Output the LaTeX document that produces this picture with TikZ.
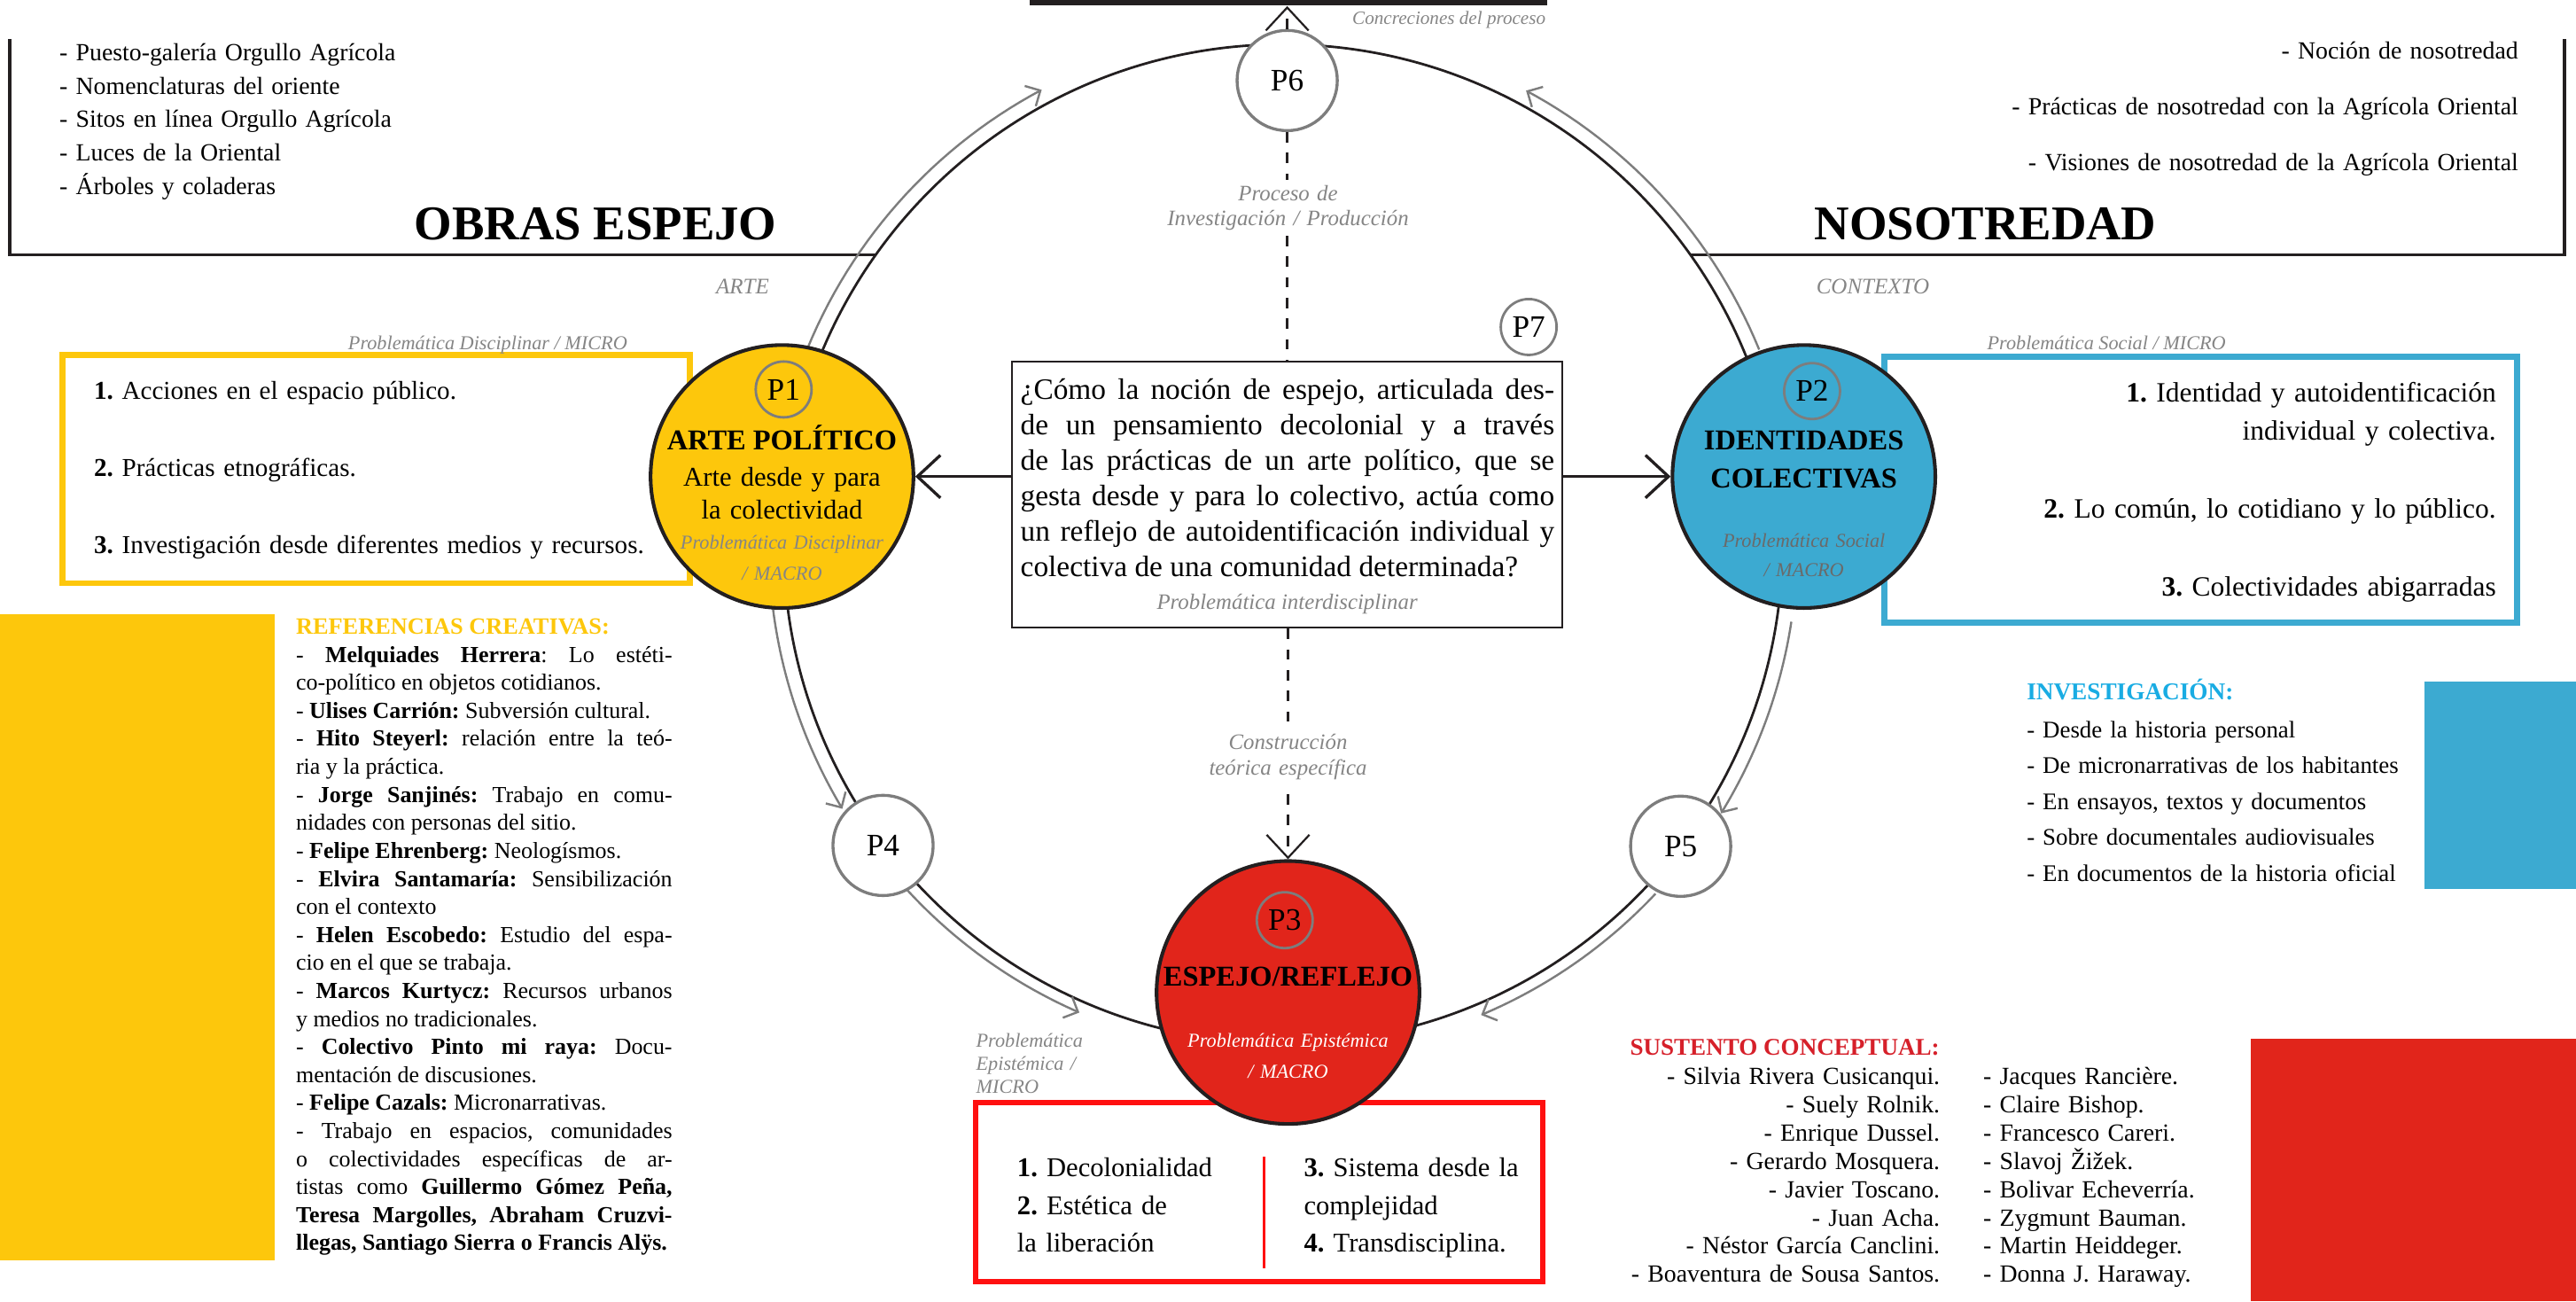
\documentclass[tikz,border=0pt]{standalone}
\usepackage{fontspec}
\setmainfont{Liberation Serif}
\usetikzlibrary{arrows.meta}
\definecolor{artyellow}{HTML}{FDC70C}
\definecolor{socblue}{HTML}{3CAAD1}
\definecolor{epired}{HTML}{E1251B}
\definecolor{boxred}{HTML}{FF1010}
\definecolor{invcyan}{HTML}{19ACE3}
\definecolor{sustred}{HTML}{D6202A}
\definecolor{notegray}{HTML}{858585}
\definecolor{ringgray}{HTML}{7D7D7D}
\definecolor{inkblack}{HTML}{231F20}
\tolerance=10000
\hbadness=10000
\frenchspacing

\begin{document}
\begin{tikzpicture}[x=1pt, y=-1pt,
  bigp/.style={circle, draw=inkblack, line width=2.2pt, minimum size=160pt, inner sep=0pt},
  smallp/.style={circle, draw=ringgray, line width=1.8pt, fill=white, minimum size=61pt, inner sep=0pt, font=\fontsize{19}{19}\selectfont},
  tagp/.style={circle, draw=ringgray, line width=1.5pt, minimum size=34pt, inner sep=0pt, font=\fontsize{19}{19}\selectfont},
  txt/.style={inner sep=0pt, anchor=base west, align=left},
  rtxt/.style={inner sep=0pt, anchor=base east, align=right},
  ctxt/.style={inner sep=0pt, anchor=base, align=center},
  note/.style={text=notegray, font=\itshape\fontsize{12}{13.8}\selectfont},
  bigtitle/.style={ctxt, font=\bfseries\fontsize{29.5}{30}\selectfont},
  ptitle/.style={ctxt, font=\bfseries\fontsize{17.5}{23}\selectfont},
  psub/.style={ctxt, text width=140pt, font=\fontsize{16.5}{20}\selectfont},
  listbox/.style={line width=3.5pt},
  flow/.style={draw=ringgray, line width=1.3pt, -{Straight Barb[length=7pt,width=14pt]}},
  mainarrow/.style={draw=inkblack, line width=1.8pt, -{Straight Barb[length=14pt,width=26pt]}},
  dashline/.style={draw=inkblack, line width=1.2pt, dash pattern=on 6.3pt off 6.3pt},
  dasharrow/.style={dashline, -{Straight Barb[length=14pt,width=26pt]}},
  steplabel/.style={ctxt, fill=white, inner ysep=3pt, text width=160pt, text=notegray, font=\itshape\fontsize{13.4}{15.5}\selectfont}
]
  \useasboundingbox (0,0) rectangle (1568,792);
  \fill[artyellow] (0,374) rectangle (167,767);
  \fill[socblue] (1476,415) rectangle (1568,541);
  \fill[epired] (1370,632) rectangle (1568,792);

  \node[fill=inkblack, minimum width=315pt, minimum height=3.5pt, inner sep=0pt] (topbar) at (784.5,1.75) {};
  \draw[inkblack, line width=2pt] (6,24) |- (533,155);
  \draw[inkblack, line width=2pt] (1029,155) -| (1561,24);

  \draw[inkblack, line width=1.5pt] (781,331) circle[radius=304];
  \begin{scope}[shift={(781,331)}]
    \draw[flow] plot[domain=202.4:242, samples=30] (\x:313);
    \draw[flow] plot[domain=337.8:298.2, samples=30] (\x:313);
    \draw[flow] plot[domain=172.8:149, samples=30] (\x:313);
    \draw[flow] plot[domain=8.7:31.6, samples=30] (\x:313);
    \draw[flow] plot[domain=137.5:113.5, samples=30] (\x:311);
    \draw[flow] plot[domain=43.2:67.2, samples=30] (\x:311);
  \end{scope}

  \draw[listbox, artyellow] (38,216) rectangle (420,355);
  \draw[listbox, socblue] (1147,217) rectangle (1532,379);
  \draw[line width=3pt, boxred] (594,671) rectangle (939,780);
  \draw[line width=1.5pt, boxred] (769.5,704) -- (769.5,772);

  \node[bigp, fill=artyellow] (p1) at (476,290) {};
  \node[bigp, fill=socblue] (p2) at (1098,290) {};
  \node[bigp, fill=epired] (p3) at (784,604) {};
  \node[smallp] (p4) at (537.5,514.5) {P4};
  \node[smallp] (p5) at (1023,515) {P5};
  \node[smallp] (p6) at (783.5,49) {P6};
  \node[draw=inkblack, line width=1.1pt, fill=white, minimum width=335pt, minimum height=162pt, inner sep=0pt] (question) at (783.5,301) {};
  \node[tagp, fill=white] (p7) at (930.5,199) {P7};

  \draw[mainarrow] (question.west |- p1.east) -- (p1.east);
  \draw[mainarrow] (question.east |- p2.west) -- (p2.west);
  \draw[dashline] (p6.south) -- (question.north);
  \draw[dasharrow] (p3.north |- question.south) -- (p3.north);
  \draw[dasharrow] (p6.north) -- (p6.north |- topbar.south);

  \node[steplabel] (proclabel) at (784,122) {Proceso de\\Investigación / Producción};
  \node[steplabel] (teolabel) at (784,456) {Construcción\\teórica específica};

  \node[txt, text width=330pt, font=\fontsize{15}{20.3}\selectfont] (obrasitems) at (36,37) {- Puesto-galería Orgullo Agrícola\\- Nomenclaturas del oriente\\- Sitos en línea Orgullo Agrícola\\- Luces de la Oriental\\- Árboles y coladeras};
  \node[rtxt, text width=340pt, font=\fontsize{15}{34}\selectfont] (nositems) at (1533,36) {- Noción de nosotredad\\- Prácticas de nosotredad con la Agrícola Oriental\\- Visiones de nosotredad de la Agrícola Oriental};
  \node[bigtitle] (obras) at (362.5,146) {OBRAS ESPEJO};
  \node[bigtitle] (nosotredad) at (1208.5,146) {NOSOTREDAD};
  \node[ctxt, note, font=\itshape\fontsize{13.5}{15}\selectfont] (arte) at (452,179) {ARTE};
  \node[ctxt, note, font=\itshape\fontsize{13.5}{15}\selectfont] (contexto) at (1140,179) {CONTEXTO};
  \node[txt, note, font=\itshape\fontsize{11.4}{13}\selectfont] (concreciones) at (823,15) {Concreciones del proceso};
  \node[rtxt, note] (dismicro) at (382,213) {Problemática Disciplinar / MICRO};
  \node[rtxt, note] (socmicro) at (1355,213) {Problemática Social / MICRO};

  \node[txt, text width=350pt, font=\fontsize{15.7}{47}\selectfont] (artitems) at (57,243) {\textbf{1.} Acciones en el espacio público.\\\textbf{2.} Prácticas etnográficas.\\\textbf{3.} Investigación desde diferentes medios y recursos.};
  \node[rtxt, text width=300pt, font=\fontsize{17}{23.5}\selectfont] (socitems) at (1519.5,244.5) {\textbf{1.} Identidad y autoidentificación\\individual y colectiva.\\[24pt]\textbf{2.} Lo común, lo cotidiano y lo público.\\[24pt]\textbf{3.} Colectividades abigarradas};

  \node[tagp] (p1tag) at (477,237) {P1};
  \node[ptitle] (p1title) at (476,274) {ARTE POLÍTICO};
  \node[psub] (p1sub) at (476,296) {Arte desde y para\\la colectividad};
  \node[ctxt, note, text width=140pt, font=\itshape\fontsize{12}{19}\selectfont] (p1note) at (476,334) {Problemática Disciplinar\\/ MACRO};

  \node[tagp] (p2tag) at (1103,238) {P2};
  \node[ptitle, text width=150pt] (p2title) at (1098,274) {IDENTIDADES\\COLECTIVAS};
  \node[ctxt, text width=140pt, text=notegray!80!black, font=\itshape\fontsize{12}{18}\selectfont] (p2note) at (1098,333) {Problemática Social\\/ MACRO};

  \node[tagp] (p3tag) at (782,560) {P3};
  \node[ptitle] (p3title) at (784,600) {ESPEJO/REFLEJO};
  \node[ctxt, text width=140pt, text=white, font=\itshape\fontsize{12}{18.5}\selectfont] (p3note) at (784,637.5) {Problemática Epistémica\\/ MACRO};
  \node[txt, note, text width=80pt] (epimicro) at (594,637.5) {Problemática\\Epistémica /\\MICRO};

  \node[txt, text width=140pt, font=\fontsize{16.5}{23}\selectfont] (epileft) at (619,716) {\textbf{1.} Decolonialidad\\\textbf{2.} Estética de\\la liberación};
  \node[txt, text width=140pt, font=\fontsize{16.5}{23}\selectfont] (epiright) at (793.5,716) {\textbf{3.} Sistema desde la\\complejidad\\\textbf{4.} Transdisciplina.};

  \node[txt, text width=325pt, align=justify, font=\fontsize{18}{21.6}\selectfont] (qtext) at (621,243) {¿Cómo la noción de espejo, articulada des-\linebreak
    de un pensamiento decolonial y a través\linebreak
    de las prácticas de un arte político, que se\linebreak
    gesta desde y para lo colectivo, actúa como\linebreak
    un reflejo de autoidentificación individual y\linebreak
    colectiva de una comunidad determinada?};
  \node[ctxt, note, font=\itshape\fontsize{13.4}{15}\selectfont] (interdis) at (783.5,371) {Problemática interdisciplinar};

  \node[txt, text=artyellow, font=\bfseries\fontsize{14.2}{16}\selectfont] (refhead) at (180,386) {REFERENCIAS CREATIVAS:};
  \node[txt, text width=229pt, align=justify, font=\fontsize{14}{17.05}\selectfont] (refbody) at (180,403) {- \textbf{Melquiades Herrera}: Lo estéti-\linebreak
    co-político en objetos cotidianos.\\
    - \textbf{Ulises Carrión:} Subversión cultural.\\
    - \textbf{Hito Steyerl:} relación entre la teó-\linebreak
    ria y la práctica.\\
    - \textbf{Jorge Sanjinés:} Trabajo en comu-\linebreak
    nidades con personas del sitio.\\
    - \textbf{Felipe Ehrenberg:} Neologísmos.\\
    - \textbf{Elvira Santamaría:} Sensibilización\linebreak
    con el contexto\\
    - \textbf{Helen Escobedo:} Estudio del espa-\linebreak
    cio en el que se trabaja.\\
    - \textbf{Marcos Kurtycz:} Recursos urbanos\linebreak
    y medios no tradicionales.\\
    - \textbf{Colectivo Pinto mi raya:} Docu-\linebreak
    mentación de discusiones.\\
    - \textbf{Felipe Cazals:} Micronarrativas.\\
    - Trabajo en espacios, comunidades\linebreak
    o colectividades específicas de ar-\linebreak
    tistas como \textbf{Guillermo Gómez Peña,}\linebreak
    \textbf{Teresa Margolles, Abraham Cruzvi-}\linebreak
    \textbf{llegas, Santiago Sierra o Francis Alÿs.}};

  \node[txt, text=invcyan, font=\bfseries\fontsize{14.7}{16}\selectfont] (invhead) at (1233.5,426) {INVESTIGACIÓN:};
  \node[txt, text width=240pt, font=\fontsize{14.5}{21.8}\selectfont] (invbody) at (1233.5,449) {- Desde la historia personal\\- De micronarrativas de los habitantes\\- En ensayos, textos y documentos\\- Sobre documentales audiovisuales\\- En documentos de la historia oficial};

  \node[txt, text=sustred, font=\bfseries\fontsize{14.6}{16}\selectfont] (susthead) at (992,642) {SUSTENTO CONCEPTUAL:};
  \node[rtxt, text width=200pt, font=\fontsize{15}{17.2}\selectfont] (sustleft) at (1181,660) {- Silvia Rivera Cusicanqui.\\- Suely Rolnik.\\- Enrique Dussel.\\- Gerardo Mosquera.\\- Javier Toscano.\\- Juan Acha.\\- Néstor García Canclini.\\- Boaventura de Sousa Santos.};
  \node[txt, text width=150pt, font=\fontsize{15}{17.2}\selectfont] (sustright) at (1207,660) {- Jacques Rancière.\\- Claire Bishop.\\- Francesco Careri.\\- Slavoj Žižek.\\- Bolivar Echeverría.\\- Zygmunt Bauman.\\- Martin Heiddeger.\\- Donna J. Haraway.};
\end{tikzpicture}
\end{document}
